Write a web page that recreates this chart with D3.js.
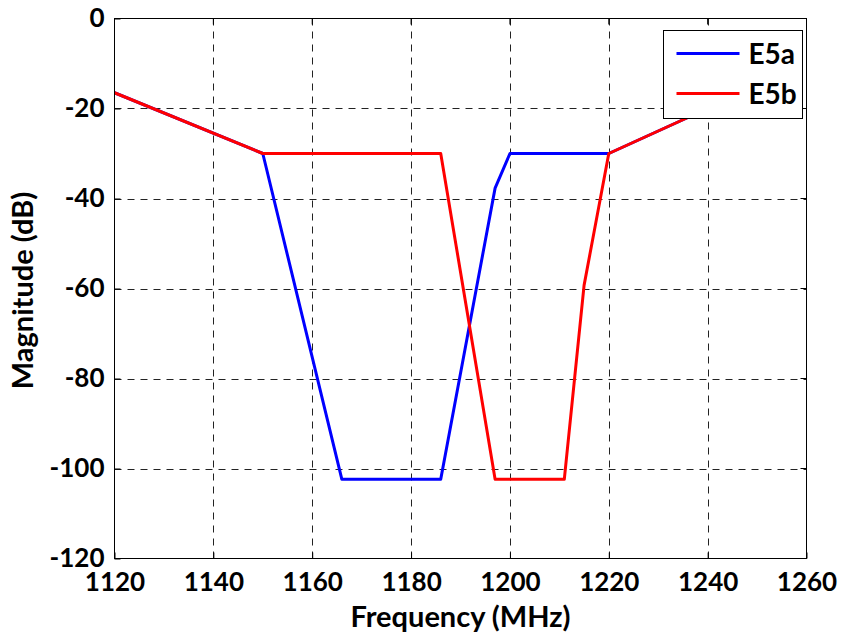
<!DOCTYPE html>
<html>
<head>
<meta charset="utf-8">
<script src="https://cdn.jsdelivr.net/npm/d3@7"></script>
<style>
  body { margin: 0; background: #fff; }
  text { font-family: Lato, "Open Sans", sans-serif; font-weight: bold; }
</style>
</head>
<body>
<script>
// chart values
var freqE5a = [1120, 1150, 1166, 1186, 1197, 1200, 1220, 1240, 1250];
var magE5a  = [-16.5, -30, -102.4, -102.4, -37.7, -30, -30, -20, -15];
var freqE5b = [1120, 1150, 1186, 1197, 1211, 1215, 1220, 1240, 1250];
var magE5b  = [-16.5, -30, -30, -102.4, -102.4, -59.3, -30, -20, -15];
var xTicks = [1120, 1140, 1160, 1180, 1200, 1220, 1240, 1260];
var yTicks = [0, -20, -40, -60, -80, -100, -120];
var seriesNames = ["E5a", "E5b"];
var seriesColors = ["#0000ff", "#ff0000"];

var width = 842, height = 633;
var pL = 114.5, pT = 18.5, pR = 806.5, pB = 558.5;

var svg = d3.select("body").append("svg")
    .attr("width", width)
    .attr("height", height);

var x = d3.scaleLinear().domain([1120, 1260]).range([pL, pR]);
var y = d3.scaleLinear().domain([-120, 0]).range([pB, pT]);

// grid
svg.append("g").selectAll("line").data(xTicks.slice(1, -1)).enter().append("line")
    .attr("x1", function (d) { return Math.round(x(d)) + 0.5; })
    .attr("x2", function (d) { return Math.round(x(d)) + 0.5; })
    .attr("y1", pT).attr("y2", pB)
    .attr("stroke", "#222").attr("stroke-width", 1).attr("stroke-dasharray", "7,6");
svg.append("g").selectAll("line").data(yTicks.slice(1, -1)).enter().append("line")
    .attr("y1", function (d) { return Math.round(y(d)) + 0.5; })
    .attr("y2", function (d) { return Math.round(y(d)) + 0.5; })
    .attr("x1", pL).attr("x2", pR)
    .attr("stroke", "#222").attr("stroke-width", 1).attr("stroke-dasharray", "7,6");

// axes (plain hyphen for minus, as in the reference)
var fmt = function (d) { return String(d); };
var xAxis = d3.axisBottom(x).tickValues(xTicks).tickSize(-6).tickPadding(17).tickFormat(fmt);
var yAxis = d3.axisLeft(y).tickValues(yTicks).tickSize(-6).tickPadding(10).tickFormat(fmt);

var gx = svg.append("g").attr("transform", "translate(0," + pB + ")").call(xAxis);
var gy = svg.append("g").attr("transform", "translate(" + pL + ",0)").call(yAxis);
[gx, gy].forEach(function (g) {
    g.select(".domain").remove();
    g.selectAll("text").attr("font-size", 26).attr("fill", "#000").style("font-family", "Lato, sans-serif").style("font-weight", "bold");
    g.selectAll(".tick line").attr("stroke", "#000");
});
gx.selectAll("text").attr("dy", "0.6em");
gy.selectAll("text").attr("dy", "0.3em");

// top/right inward ticks
svg.append("g").selectAll("line").data(xTicks).enter().append("line")
    .attr("x1", function (d) { return x(d); }).attr("x2", function (d) { return x(d); })
    .attr("y1", pT).attr("y2", pT + 6).attr("stroke", "#000");
svg.append("g").selectAll("line").data(yTicks).enter().append("line")
    .attr("y1", function (d) { return y(d); }).attr("y2", function (d) { return y(d); })
    .attr("x1", pR).attr("x2", pR - 6).attr("stroke", "#000");

// lines
var line = d3.line().x(function (d) { return x(d[0]); }).y(function (d) { return y(d[1]); });
var series = [d3.zip(freqE5a, magE5a), d3.zip(freqE5b, magE5b)];

svg.append("defs").append("clipPath").attr("id", "clip")
    .append("rect").attr("x", pL).attr("y", pT).attr("width", pR - pL).attr("height", pB - pT);

svg.append("g").attr("clip-path", "url(#clip)").selectAll("path").data(series).enter().append("path")
    .attr("d", line)
    .attr("fill", "none")
    .attr("stroke", function (d, i) { return seriesColors[i]; })
    .attr("stroke-width", 3)
    .attr("stroke-linejoin", "round");

// frame
svg.append("rect").attr("x", pL).attr("y", pT).attr("width", pR - pL).attr("height", pB - pT)
    .attr("fill", "none").attr("stroke", "#000").attr("stroke-width", 1);

// legend
var lg = svg.append("g").attr("transform", "translate(663.5,30.5)");
lg.append("rect").attr("width", 139).attr("height", 88).attr("fill", "#fff").attr("stroke", "#000").attr("stroke-width", 1);
seriesNames.forEach(function (name, i) {
    var yy = 23 + i * 40;
    lg.append("line").attr("x1", 13).attr("x2", 76).attr("y1", yy).attr("y2", yy)
        .attr("stroke", seriesColors[i]).attr("stroke-width", 3);
    lg.append("text").attr("x", 85).attr("y", yy).attr("dy", "0.36em")
        .attr("font-size", 28).text(name);
});

// axis labels
svg.append("text").attr("x", (pL + pR) / 2).attr("y", 627)
    .attr("text-anchor", "middle").attr("font-size", 29).text("Frequency (MHz)");
svg.append("text").attr("transform", "translate(33," + ((pT + pB) / 2 + 2) + ") rotate(-90)")
    .attr("text-anchor", "middle").attr("font-size", 29).text("Magnitude (dB)");
</script>
</body>
</html>
